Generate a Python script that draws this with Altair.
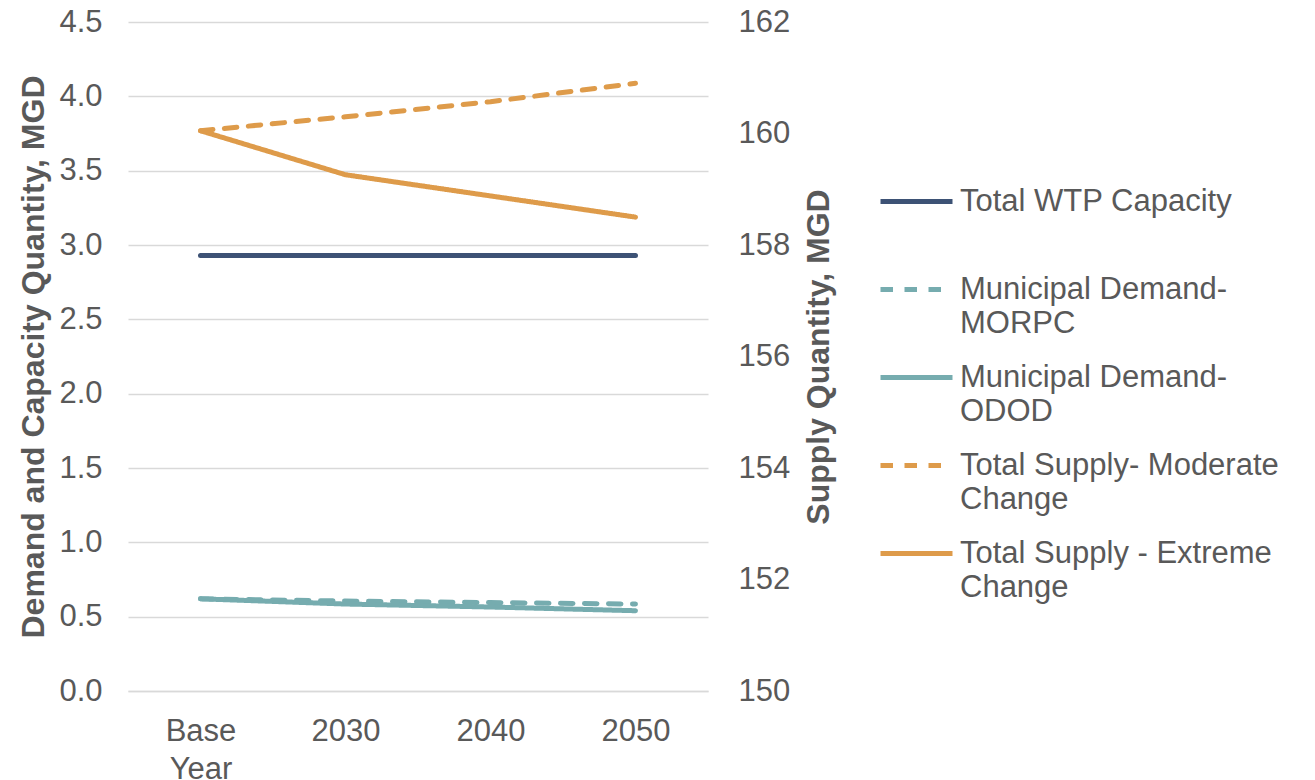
import json
import altair as alt
import pandas as pd

# Categories and series values
years = ["Base Year", "2030", "2040", "2050"]

wtp_capacity = [2.93, 2.93, 2.93, 2.93]
demand_morpc = [0.62, 0.605, 0.595, 0.585]
demand_odod = [0.62, 0.585, 0.565, 0.54]
supply_moderate = [160.05, 160.3, 160.57, 160.9]
supply_extreme = [160.05, 159.26, 158.88, 158.5]

series_names = [
    "Total WTP Capacity",
    "Municipal Demand-MORPC",
    "Municipal Demand-ODOD",
    "Total Supply- Moderate Change",
    "Total Supply - Extreme Change",
]
legend_lines = [
    ["Total WTP Capacity"],
    ["Municipal Demand-", "MORPC"],
    ["Municipal Demand-", "ODOD"],
    ["Total Supply- Moderate", "Change"],
    ["Total Supply - Extreme", "Change"],
]
series_colors = ["#3D5275", "#76ACAF", "#76ACAF", "#DE9B4A", "#DE9B4A"]
series_dash = [[1, 0], [12.5, 11.5], [1, 0], [12.5, 11.5], [1, 0]]

left_ticks = [0.0, 0.5, 1.0, 1.5, 2.0, 2.5, 3.0, 3.5, 4.0, 4.5]
right_ticks = [150, 152, 154, 156, 158, 160, 162]

TEXT = "#595959"
FONT = "Liberation Sans"
LINE_W = 5


def long_frame(names, values):
    rows = []
    for name, vals in zip(names, values):
        for yr, v in zip(years, vals):
            rows.append({"series": name, "year": yr, "value": v})
    return pd.DataFrame(rows)


left_df = long_frame(series_names[:3], [wtp_capacity, demand_morpc, demand_odod])
right_df = long_frame(series_names[3:], [supply_moderate, supply_extreme])

# multi-line legend labels
label_expr = "datum.label"
for name, lines in reversed(list(zip(series_names, legend_lines))):
    label_expr = f"datum.label == {json.dumps(name)} ? {json.dumps(lines)} : ({label_expr})"

x_enc = alt.X(
    "year:O",
    sort=years,
    scale=alt.Scale(padding=0.5),
    axis=alt.Axis(
        title=None,
        labelAngle=0,
        labelFontSize=31,
        labelColor=TEXT,
        labelFont=FONT,
        labelPadding=25,
        labelLineHeight=38,
        labelExpr="datum.label == 'Base Year' ? ['Base', 'Year'] : datum.label",
        ticks=False,
        domain=True,
        domainColor="#D9D9D9",
        domainWidth=1.3,
        grid=False,
    ),
)

color_enc = alt.Color(
    "series:N",
    scale=alt.Scale(domain=series_names, range=series_colors),
    legend=alt.Legend(
        title=None,
        orient="none",
        legendX=750,
        legendY=141,
        symbolType="stroke",
        symbolSize=5184,
        symbolStrokeWidth=LINE_W,
        labelFontSize=31,
        labelColor=TEXT,
        labelFont=FONT,
        labelLimit=500,
        labelOffset=5,
        labelExpr=label_expr,
        rowPadding=0,
        gridAlign="all",
        padding=0,
    ),
)
dash_enc = alt.StrokeDash(
    "series:N",
    scale=alt.Scale(domain=series_names, range=series_dash),
    legend=alt.Legend(title=None),
)


def y_axis(orient, values, fmt, title, title_x, label_pad, grid):
    return alt.Axis(
        orient=orient,
        values=values,
        format=fmt,
        title=title,
        titleFont=FONT,
        titleFontSize=32,
        titleFontWeight="bold",
        titleColor=TEXT,
        titleAngle=270,
        titleX=title_x,
        titleY=334.5,
        titleAlign="center",
        titleBaseline="middle",
        labelFontSize=31,
        labelColor=TEXT,
        labelFont=FONT,
        labelPadding=label_pad,
        ticks=False,
        domain=False,
        grid=grid,
        gridColor="#D9D9D9",
        gridWidth=1.3,
    )


line_mark = dict(strokeWidth=LINE_W, strokeCap="round", strokeJoin="round")

left = alt.Chart(left_df).mark_line(**line_mark).encode(
    x=x_enc,
    y=alt.Y(
        "value:Q",
        scale=alt.Scale(domain=[0, 4.5], nice=False, zero=False),
        axis=y_axis("left", left_ticks, ".1f", "Demand and Capacity Quantity, MGD", -95, 26, True),
    ),
    color=color_enc,
    strokeDash=dash_enc,
)

right = alt.Chart(right_df).mark_line(**line_mark).encode(
    x=x_enc,
    y=alt.Y(
        "value:Q",
        scale=alt.Scale(domain=[150, 162], nice=False, zero=False),
        axis=y_axis("right", right_ticks, "d", "Supply Quantity, MGD", 110, 30, False),
    ),
    color=color_enc,
    strokeDash=dash_enc,
)

chart = (
    alt.layer(left, right)
    .resolve_scale(y="independent")
    .properties(
        width=580,
        height=669,
        autosize=alt.AutoSizeParams(type="none"),
        padding={"left": 128, "top": 22, "right": 607, "bottom": 89},
        background="white",
    )
    .configure(
        view=alt.ViewConfig(stroke=None),
        style={"guide-label": {"lineHeight": 34}},
    )
)

chart.save("out.html", embed_options={"renderer": "svg", "actions": False})
